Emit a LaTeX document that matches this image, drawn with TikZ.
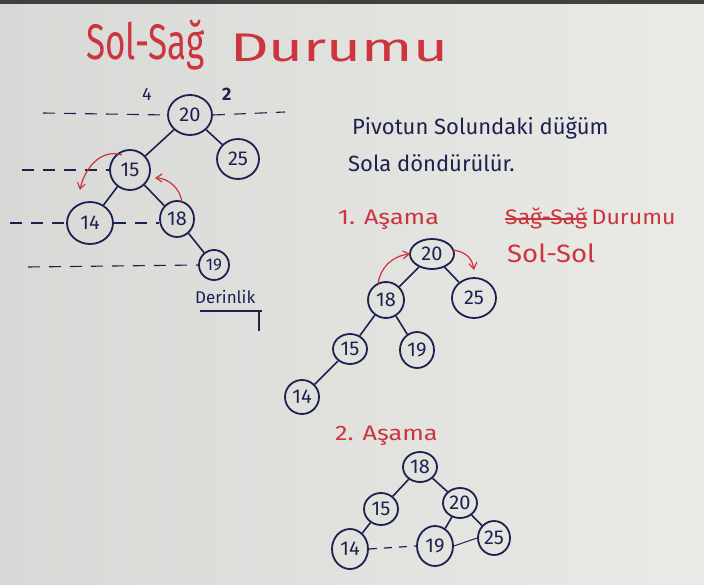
\documentclass[tikz,border=0pt]{standalone}
\usepackage{fontspec}
\setmainfont{Fira Sans}
\usetikzlibrary{shapes.geometric,arrows.meta}
\definecolor{boardl}{RGB}{216,216,214}
\definecolor{boardr}{RGB}{234,234,230}
\definecolor{ink}{RGB}{28,34,80}
\definecolor{marker}{RGB}{204,52,62}
\tikzset{
  nd/.style={draw=ink, line width=1.8pt, ellipse, inner sep=0pt, text=ink,
    font=\fontsize{20}{20}\selectfont},
  edge/.style={draw=ink, line width=1.6pt},
  lvl/.style={draw=ink, line width=1.1pt, dash pattern=on 12pt off 9pt},
  redtxt/.style={text=marker, inner sep=0pt, anchor=base west},
  bluetxt/.style={text=ink, inner sep=0pt, anchor=base west},
  rarrow/.style={draw=marker, line width=1.2pt, -{Straight Barb[length=6pt,width=8pt]}},
}
\begin{document}
\begin{tikzpicture}[x=1pt,y=-1pt]
\useasboundingbox (0,0) rectangle (704,585);
\shade[left color=boardl, right color=boardr] (0,0) rectangle (704,585);
\fill[black!75] (0,0) rectangle (704,4);

% title
\node[redtxt, font=\fontsize{50}{50}\selectfont\addfontfeature{FakeStretch=0.7}] (title) at (86,60) {Sol-Sağ};
\node[redtxt, font=\fontsize{40}{40}\selectfont\addfontfeature{FakeStretch=1.5}] (title2) at (230,62) {Durumu};

% first tree with depth levels
\node[nd, minimum width=44pt, minimum height=40pt] (a20) at (190,115) {20};
\node[nd, minimum width=42pt, minimum height=40pt] (a25) at (238,159) {25};
\node[nd, minimum width=40pt, minimum height=40pt] (a15) at (130,170) {15};
\node[nd, minimum width=46pt, minimum height=42pt] (a14) at (90,223) {14};
\node[nd, minimum width=34pt, minimum height=36pt] (a18) at (177,219) {18};
\node[nd, minimum width=30pt, minimum height=30pt, font=\fontsize{17}{17}\selectfont] (a19) at (214,265) {19};
\draw[edge] (a20) -- (a15);
\draw[edge] (a20) -- (a25);
\draw[edge] (a15) -- (a14);
\draw[edge] (a15) -- (a18);
\draw[edge] (a18) -- (a19);

\coordinate (l1a) at (43,113);
\coordinate (l2a) at (22,170);
\coordinate (l3a) at (10,223);
\coordinate (l4a) at (28,267);
\coordinate (l1b) at (285,112);
\draw[lvl] (l1a) -- (a20.west);
\draw[lvl] (a20.east) -- (l1b);
\draw[lvl] (l2a) -- (a15.west);
\draw[lvl] (l3a) -- (a14.west);
\draw[lvl] (a14.east) -- (a14.east -| a18.west);
\draw[lvl] (l4a) -- (a19.west);

\node[bluetxt, font=\fontsize{18}{18}\selectfont] (hl) at (142,101) {4};
\node[bluetxt, font=\fontsize{18}{18}\selectfont\bfseries] (hr) at (222,101) {2};

\coordinate (r1s) at (122,155);
\coordinate (r1e) at (80,190);
\draw[rarrow] (r1s) .. controls (100,148) and (84,170) .. (r1e);
\coordinate (r2s) at (182,202);
\coordinate (r2e) at (155,178);
\draw[rarrow] (r2s) .. controls (180,188) and (168,178) .. (r2e);

\node[bluetxt, font=\fontsize{17}{17}\selectfont] (der) at (195,304) {Derinlik};
\coordinate (u1) at (200,311);
\coordinate (u2) at (262,311);
\coordinate (u3) at (259,331);
\draw[ink, line width=1.4pt] (u1) -- (u2);
\draw[ink, line width=1.4pt] (259,312) -- (u3);

% explanation
\node[bluetxt, font=\fontsize{22}{22}\selectfont] (p1) at (352,135) {Pivotun Solundaki düğüm};
\node[bluetxt, font=\fontsize{22}{22}\selectfont] (p2) at (348,172) {Sola döndürülür.};

% step one
\node[redtxt, font=\fontsize{21}{21}\selectfont\addfontfeature{FakeStretch=1.2}] (s1) at (338,225) {1. Aşama};
\node[redtxt, font=\fontsize{21}{21}\selectfont\addfontfeature{FakeStretch=1.1}] (ss) at (505,225) {Sağ-Sağ};
\node[redtxt, font=\fontsize{21}{21}\selectfont\addfontfeature{FakeStretch=1.1}, anchor=base west] (du) at (ss.base east) {\hspace{4pt}Durumu};
\draw[marker, line width=1.2pt] ([yshift=6pt]ss.base west) -- ([yshift=6pt]ss.base east);
\node[redtxt, font=\fontsize{25}{25}\selectfont\addfontfeature{FakeStretch=1.1}] (sl) at (507,263) {Sol-Sol};

\node[nd, minimum width=44pt, minimum height=30pt] (b20) at (432,254) {20};
\node[nd, minimum width=44pt, minimum height=40pt] (b25) at (474,298) {25};
\node[nd, minimum width=36pt, minimum height=36pt] (b18) at (386,300) {18};
\node[nd, minimum width=34pt, minimum height=30pt] (b15) at (350,349) {15};
\node[nd, minimum width=34pt, minimum height=36pt] (b19) at (417,350) {19};
\node[nd, minimum width=34pt, minimum height=34pt] (b14) at (302,397) {14};
\draw[edge] (b20) -- (b18);
\draw[edge] (b20) -- (b25);
\draw[edge] (b18) -- (b15);
\draw[edge] (b18) -- (b19);
\draw[edge] (b15) -- (b14);
\coordinate (r3s) at (378,284);
\coordinate (r3e) at (410,254);
\draw[rarrow] (r3s) .. controls (380,268) and (392,256) .. (r3e);
\coordinate (r4s) at (453,250);
\coordinate (r4e) at (474,270);
\draw[rarrow] (r4s) .. controls (466,252) and (472,258) .. (r4e);

% step two
\node[redtxt, font=\fontsize{21}{21}\selectfont\addfontfeature{FakeStretch=1.2}] (s2) at (335,440) {2. Aşama};
\node[nd, minimum width=34pt, minimum height=30pt] (c18) at (420,467) {18};
\node[nd, minimum width=34pt, minimum height=32pt] (c15) at (381,509) {15};
\node[nd, minimum width=34pt, minimum height=30pt] (c20) at (460,503) {20};
\node[nd, minimum width=36pt, minimum height=40pt] (c14) at (350,549) {14};
\node[nd, minimum width=36pt, minimum height=40pt] (c19) at (435,546) {19};
\node[nd, minimum width=32pt, minimum height=34pt] (c25) at (494,538) {25};
\draw[edge] (c18) -- (c15);
\draw[edge] (c18) -- (c20);
\draw[edge] (c15) -- (c14);
\draw[edge] (c20) -- (c19);
\draw[edge] (c20) -- (c25);
\draw[ink, line width=1.2pt, dash pattern=on 8pt off 7pt] (c14.east) -- (c19.west);
\draw[ink, line width=1pt] (c19.east) -- (c25.west);
\end{tikzpicture}
\end{document}
